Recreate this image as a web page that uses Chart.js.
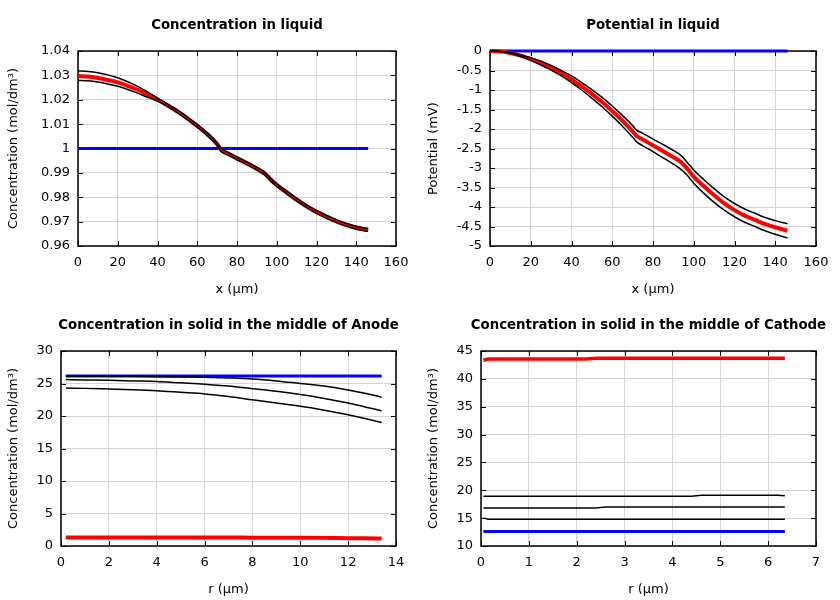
<!DOCTYPE html>
<html>
<head>
<meta charset="utf-8">
<script src="https://cdn.jsdelivr.net/npm/chart.js@4"></script>
<style>
  body { margin: 0; background: #fff; }
  #wrap { position: relative; width: 840px; height: 600px; }
  canvas { position: absolute; }
</style>
</head>
<body>
<div id="wrap">
  <canvas id="c1" width="420" height="300" style="left:0;top:0"></canvas>
  <canvas id="c2" width="420" height="300" style="left:420px;top:0"></canvas>
  <canvas id="c3" width="420" height="300" style="left:0;top:300px"></canvas>
  <canvas id="c4" width="420" height="300" style="left:420px;top:300px"></canvas>
</div>
<script>
// --- concentration in liquid / potential in liquid (x in um) ---
const liqX = [0, 5, 10, 15, 20, 25, 30, 35, 40, 45, 50, 55, 60, 65, 70, 72, 75, 80, 85, 90, 94, 97, 100, 105, 110, 115, 120, 125, 130, 135, 140, 146];
const concRed = [1.0297, 1.0295, 1.0289, 1.0281, 1.0271, 1.0257, 1.0241, 1.0222, 1.0201, 1.0178, 1.0152, 1.0124, 1.0093, 1.0059, 1.0018, 0.9994, 0.9981, 0.9960, 0.9939, 0.9917, 0.9897, 0.9872, 0.9850, 0.9820, 0.9790, 0.9763, 0.9740, 0.9720, 0.9702, 0.9687, 0.9675, 0.9666];
const concHi = [1.0318, 1.0316, 1.0311, 1.0302, 1.0290, 1.0274, 1.0255, 1.0232, 1.0207, 1.0183, 1.0158, 1.0130, 1.0099, 1.0065, 1.0024, 1.0000, 0.9987, 0.9966, 0.9945, 0.9923, 0.9903, 0.9878, 0.9856, 0.9826, 0.9796, 0.9769, 0.9746, 0.9726, 0.9708, 0.9693, 0.9681, 0.9672];
const concLo = [1.0280, 1.0278, 1.0273, 1.0265, 1.0255, 1.0242, 1.0227, 1.0210, 1.0195, 1.0172, 1.0146, 1.0118, 1.0087, 1.0053, 1.0012, 0.9988, 0.9975, 0.9954, 0.9933, 0.9911, 0.9891, 0.9866, 0.9844, 0.9814, 0.9784, 0.9757, 0.9734, 0.9714, 0.9696, 0.9681, 0.9669, 0.9660];
const concBlueX = [0, 146];
const concBlue = [1, 1];

const potRed = [0, -0.01, -0.05, -0.12, -0.21, -0.31, -0.43, -0.57, -0.73, -0.91, -1.10, -1.31, -1.54, -1.79, -2.06, -2.18, -2.27, -2.42, -2.57, -2.72, -2.86, -3.03, -3.22, -3.47, -3.70, -3.91, -4.08, -4.22, -4.33, -4.44, -4.52, -4.61];
const potHi = [0, -0.01, -0.04, -0.10, -0.17, -0.26, -0.37, -0.50, -0.64, -0.81, -0.99, -1.19, -1.41, -1.65, -1.91, -2.03, -2.11, -2.26, -2.40, -2.55, -2.69, -2.87, -3.05, -3.30, -3.53, -3.74, -3.91, -4.05, -4.16, -4.27, -4.35, -4.43];
const potLo = [0, -0.01, -0.06, -0.14, -0.24, -0.36, -0.49, -0.64, -0.81, -1.00, -1.21, -1.43, -1.67, -1.93, -2.21, -2.33, -2.43, -2.58, -2.74, -2.90, -3.05, -3.20, -3.39, -3.65, -3.88, -4.08, -4.25, -4.39, -4.50, -4.61, -4.70, -4.79];
const potBlueX = [0, 146];
const potBlue = [0, 0];

// --- solid concentration in anode (r in um) ---
const anX = [0.2, 1, 2, 3, 4, 5, 6, 7, 8, 9, 10, 11, 12, 12.7, 13.4];
const anHi = [26.1, 26.1, 26.1, 26.1, 26.05, 26.0, 25.95, 25.85, 25.7, 25.4, 25.0, 24.6, 24.0, 23.5, 22.9];
const anMid = [25.6, 25.55, 25.5, 25.4, 25.3, 25.1, 24.9, 24.6, 24.2, 23.8, 23.3, 22.7, 22.0, 21.4, 20.8];
const anLo = [24.3, 24.25, 24.15, 24.05, 23.9, 23.65, 23.4, 23.0, 22.5, 22.0, 21.5, 20.9, 20.2, 19.6, 19.0];
const anRed = [1.3, 1.3, 1.3, 1.3, 1.3, 1.3, 1.3, 1.3, 1.28, 1.28, 1.27, 1.25, 1.2, 1.18, 1.15];
const anBlueX = [0.2, 13.4];
const anBlue = [26.15, 26.15];

// --- solid concentration in cathode ---
const caRedX = [0.05, 0.15, 2.2, 2.4, 6.35];
const caRed = [43.35, 43.55, 43.55, 43.7, 43.7];
const caHiX = [0.05, 4.4, 4.6, 6.2, 6.35];
const caHi = [18.95, 18.95, 19.1, 19.1, 19.0];
const caMidX = [0.05, 2.4, 2.6, 6.35];
const caMid = [16.8, 16.8, 17.0, 17.0];
const caLoX = [0.05, 0.15, 6.35];
const caLo = [15.05, 14.8, 14.8];
const caBlueX = [0.05, 6.35];
const caBlue = [12.6, 12.6];

// tick values
const ticksLiqX = [0, 20, 40, 60, 80, 100, 120, 140, 160];
const ticksConcY = [0.96, 0.97, 0.98, 0.99, 1, 1.01, 1.02, 1.03, 1.04];
const ticksPotY = [-5, -4.5, -4, -3.5, -3, -2.5, -2, -1.5, -1, -0.5, 0];
const ticksAnX = [0, 2, 4, 6, 8, 10, 12, 14];
const ticksAnY = [0, 5, 10, 15, 20, 25, 30];
const ticksCaX = [0, 1, 2, 3, 4, 5, 6, 7];
const ticksCaY = [10, 15, 20, 25, 30, 35, 40, 45];

Chart.defaults.font.family = '"DejaVu Sans", sans-serif';
Chart.defaults.font.size = 13;
Chart.defaults.color = '#000';

function pts(xs, ys) {
    return xs.map((x, i) => ({ x: x, y: ys[i] }));
}

function line(xs, ys, color, width, smooth) {
    return {
        data: pts(xs, ys),
        borderColor: color,
        borderWidth: width,
        pointRadius: 0,
        clip: 5,
        cubicInterpolationMode: smooth ? 'monotone' : 'default',
        tension: smooth ? 0.4 : 0
    };
}

const framePlugin = {
    id: 'frame',
    beforeDatasetsDraw(chart) {
        const { ctx, chartArea: a, scales: { x, y } } = chart;
        ctx.save();
        ctx.strokeStyle = '#000';
        ctx.lineWidth = 1;
        ctx.beginPath();
        x.ticks.forEach(t => {
            const px = Math.round(x.getPixelForValue(t.value)) + 0.5;
            ctx.moveTo(px, a.bottom); ctx.lineTo(px, a.bottom - 5);
            ctx.moveTo(px, a.top); ctx.lineTo(px, a.top + 5);
        });
        y.ticks.forEach(t => {
            const py = Math.round(y.getPixelForValue(t.value)) + 0.5;
            ctx.moveTo(a.left, py); ctx.lineTo(a.left + 5, py);
            ctx.moveTo(a.right, py); ctx.lineTo(a.right - 5, py);
        });
        ctx.stroke();
        ctx.lineWidth = 1.5;
        ctx.strokeRect(a.left, a.top, a.right - a.left, a.bottom - a.top);
        ctx.font = 'bold 13.3px "DejaVu Sans"';
        ctx.fillStyle = '#000';
        ctx.textAlign = 'center';
        ctx.textBaseline = 'middle';
        ctx.fillText(chart.options.plugins.frame.title, (a.left + a.right) / 2, 26);
        ctx.restore();
    }
};

function makeChart(id, cfg) {
    const setTicks = arr => s => { s.ticks = arr.map(v => ({ value: v })); };
    new Chart(document.getElementById(id), {
        type: 'line',
        data: { datasets: cfg.datasets },
        plugins: [framePlugin],
        options: {
            responsive: false,
            animation: false,
            layout: { padding: { left: 0, top: 51, right: 420 - cfg.right, bottom: 0 } },
            plugins: { legend: { display: false }, tooltip: { enabled: false }, frame: { title: cfg.title } },
            scales: {
                x: {
                    type: 'linear',
                    min: cfg.xTicks[0], max: cfg.xTicks[cfg.xTicks.length - 1],
                    afterBuildTicks: setTicks(cfg.xTicks),
                    afterFit: s => { s.height = 54; },
                    grid: { color: '#d4d4d4', drawTicks: false },
                    border: { display: false },
                    ticks: { padding: 9, maxRotation: 0, callback: v => String(v) },
                    title: { display: true, text: cfg.xTitle, padding: { top: 0, bottom: 3 } }
                },
                y: {
                    type: 'linear',
                    min: cfg.yTicks[0], max: cfg.yTicks[cfg.yTicks.length - 1],
                    afterBuildTicks: setTicks(cfg.yTicks),
                    afterFit: s => { s.width = cfg.left; },
                    grid: { color: '#d4d4d4', drawTicks: false },
                    border: { display: false },
                    ticks: { padding: 8, callback: v => String(v) },
                    title: { display: true, text: cfg.yTitle, padding: { top: 6, bottom: 0 } }
                }
            }
        }
    });
}

makeChart('c1', {
    title: 'Concentration in liquid', left: 78, right: 396,
    xTicks: ticksLiqX, yTicks: ticksConcY,
    xTitle: 'x (µm)', yTitle: 'Concentration (mol/dm³)',
    datasets: [
        line(liqX, concHi, '#000', 1.5, true),
        line(liqX, concLo, '#000', 1.5, true),
        line(liqX, concRed, '#ff0000', 4, true),
        line(concBlueX, concBlue, '#0000ff', 3, false)
    ]
});

makeChart('c2', {
    title: 'Potential in liquid', left: 70, right: 396,
    xTicks: ticksLiqX, yTicks: ticksPotY,
    xTitle: 'x (µm)', yTitle: 'Potential (mV)',
    datasets: [
        line(liqX, potHi, '#000', 1.5, true),
        line(liqX, potLo, '#000', 1.5, true),
        line(liqX, potRed, '#ff0000', 4, true),
        line(potBlueX, potBlue, '#0000ff', 3, false)
    ]
});

makeChart('c3', {
    title: 'Concentration in solid in the middle of Anode', left: 61, right: 396,
    xTicks: ticksAnX, yTicks: ticksAnY,
    xTitle: 'r (µm)', yTitle: 'Concentration (mol/dm³)',
    datasets: [
        line(anX, anHi, '#000', 1.5, true),
        line(anX, anMid, '#000', 1.5, true),
        line(anX, anLo, '#000', 1.5, true),
        line(anX, anRed, '#ff0000', 4, true),
        line(anBlueX, anBlue, '#0000ff', 3, false)
    ]
});

makeChart('c4', {
    title: 'Concentration in solid in the middle of Cathode', left: 61, right: 396,
    xTicks: ticksCaX, yTicks: ticksCaY,
    xTitle: 'r (µm)', yTitle: 'Concentration (mol/dm³)',
    datasets: [
        line(caHiX, caHi, '#000', 1.5, false),
        line(caMidX, caMid, '#000', 1.5, false),
        line(caLoX, caLo, '#000', 1.5, false),
        line(caRedX, caRed, '#ff0000', 3.5, false),
        line(caBlueX, caBlue, '#0000ff', 3, false)
    ]
});
</script>
</body>
</html>
